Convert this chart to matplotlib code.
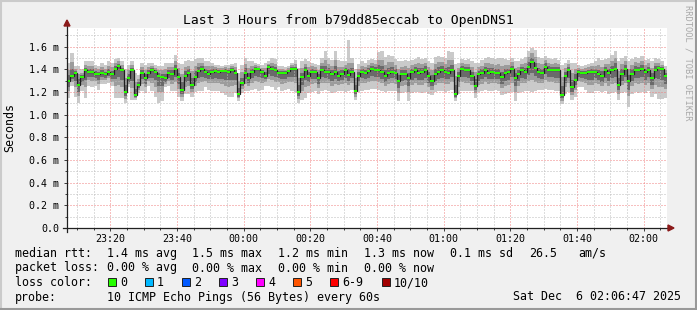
import datetime as dt

import numpy as np
import matplotlib
matplotlib.use("Agg")
import matplotlib.pyplot as plt
import matplotlib.dates as mdates
from matplotlib.patches import Polygon, Rectangle
from matplotlib.lines import Line2D
from matplotlib.ticker import FuncFormatter

plt.rcParams['font.family'] = ['DejaVu Sans Mono']

# one smokeping round per minute, 23:07 .. 02:06 (values in ms)
start = dt.datetime(2025, 12, 5, 23, 7)

median = [1.300, 1.345, 1.370, 1.260, 1.330, 1.390, 1.380, 1.380, 1.360, 1.355,
          1.370, 1.355, 1.380, 1.355, 1.405, 1.430, 1.390, 1.200, 1.320, 1.390,
          1.170, 1.260, 1.370, 1.320, 1.370, 1.390, 1.380, 1.340, 1.330, 1.320,
          1.370, 1.360, 1.400, 1.330, 1.220, 1.345, 1.365, 1.265, 1.335, 1.385,
          1.400, 1.375, 1.360, 1.375, 1.385, 1.375, 1.385, 1.385, 1.380, 1.390,
          1.370, 1.180, 1.280, 1.370, 1.320, 1.375, 1.400, 1.400, 1.375, 1.345,
          1.420, 1.400, 1.390, 1.370, 1.365, 1.365, 1.385, 1.400, 1.400, 1.200,
          1.330, 1.390, 1.340, 1.375, 1.375, 1.320, 1.395, 1.375, 1.375, 1.355,
          1.375, 1.340, 1.355, 1.390, 1.350, 1.380, 1.205, 1.340, 1.380, 1.365,
          1.385, 1.400, 1.390, 1.390, 1.375, 1.340, 1.365, 1.380, 1.370, 1.300,
          1.355, 1.360, 1.320, 1.375, 1.390, 1.365, 1.375, 1.395, 1.340, 1.300,
          1.355, 1.375, 1.390, 1.375, 1.365, 1.390, 1.180, 1.345, 1.400, 1.395,
          1.390, 1.340, 1.255, 1.355, 1.365, 1.390, 1.365, 1.375, 1.370, 1.365,
          1.330, 1.365, 1.375, 1.405, 1.320, 1.355, 1.390, 1.375, 1.425, 1.465,
          1.410, 1.375, 1.365, 1.425, 1.395, 1.390, 1.390, 1.390, 1.175, 1.340,
          1.395, 1.240, 1.310, 1.380, 1.370, 1.365, 1.375, 1.375, 1.380, 1.355,
          1.340, 1.390, 1.365, 1.390, 1.405, 1.260, 1.360, 1.405, 1.300, 1.360,
          1.395, 1.390, 1.405, 1.375, 1.395, 1.320, 1.395, 1.410, 1.400, 1.340]

# outer smoke (slowest / fastest ping)
hi1 = [1.46, 1.54, 1.43, 1.43, 1.40, 1.47, 1.47, 1.47, 1.44, 1.43,
       1.46, 1.44, 1.47, 1.46, 1.49, 1.50, 1.47, 1.40, 1.44, 1.47,
       1.37, 1.35, 1.46, 1.44, 1.46, 1.46, 1.44, 1.43, 1.43, 1.46,
       1.46, 1.46, 1.53, 1.46, 1.45, 1.47, 1.48, 1.47, 1.49, 1.50,
       1.50, 1.47, 1.47, 1.46, 1.44, 1.44, 1.43, 1.44, 1.44, 1.45,
       1.46, 1.37, 1.44, 1.50, 1.47, 1.47, 1.46, 1.45, 1.44, 1.46,
       1.47, 1.50, 1.49, 1.43, 1.43, 1.42, 1.43, 1.46, 1.48, 1.41,
       1.47, 1.49, 1.47, 1.46, 1.45, 1.44, 1.50, 1.56, 1.50, 1.48,
       1.56, 1.48, 1.47, 1.47, 1.66, 1.50, 1.40, 1.45, 1.47, 1.46,
       1.48, 1.49, 1.48, 1.55, 1.56, 1.51, 1.53, 1.52, 1.49, 1.47,
       1.47, 1.48, 1.47, 1.48, 1.49, 1.51, 1.49, 1.50, 1.47, 1.46,
       1.51, 1.52, 1.51, 1.50, 1.56, 1.55, 1.45, 1.46, 1.49, 1.48,
       1.49, 1.47, 1.46, 1.46, 1.48, 1.50, 1.51, 1.50, 1.49, 1.50,
       1.50, 1.49, 1.48, 1.50, 1.47, 1.47, 1.49, 1.51, 1.56, 1.59,
       1.57, 1.51, 1.50, 1.52, 1.50, 1.49, 1.50, 1.48, 1.44, 1.46,
       1.48, 1.46, 1.46, 1.44, 1.43, 1.44, 1.45, 1.46, 1.47, 1.50,
       1.48, 1.49, 1.50, 1.53, 1.56, 1.47, 1.50, 1.52, 1.47, 1.49,
       1.51, 1.50, 1.52, 1.48, 1.49, 1.47, 1.50, 1.49, 1.47, 1.43]
lo1 = [1.15, 1.25, 1.16, 1.10, 1.21, 1.15, 1.25, 1.24, 1.25, 1.22,
       1.27, 1.27, 1.28, 1.25, 1.15, 1.15, 1.15, 1.10, 1.24, 1.13,
       1.13, 1.19, 1.21, 1.19, 1.25, 1.21, 1.16, 1.10, 1.12, 1.24,
       1.25, 1.21, 1.21, 1.16, 1.12, 1.18, 1.18, 1.16, 1.20, 1.21,
       1.21, 1.24, 1.22, 1.21, 1.21, 1.21, 1.19, 1.17, 1.16, 1.16,
       1.19, 1.12, 1.19, 1.21, 1.21, 1.22, 1.23, 1.21, 1.22, 1.25,
       1.25, 1.24, 1.22, 1.24, 1.21, 1.22, 1.23, 1.21, 1.20, 1.10,
       1.13, 1.15, 1.19, 1.20, 1.21, 1.18, 1.21, 1.22, 1.21, 1.19,
       1.20, 1.21, 1.21, 1.20, 1.21, 1.22, 1.13, 1.20, 1.21, 1.22,
       1.22, 1.23, 1.23, 1.22, 1.21, 1.20, 1.21, 1.21, 1.21, 1.12,
       1.19, 1.20, 1.12, 1.19, 1.20, 1.20, 1.19, 1.20, 1.18, 1.17,
       1.20, 1.21, 1.21, 1.20, 1.21, 1.22, 1.12, 1.18, 1.21, 1.21,
       1.21, 1.21, 1.15, 1.20, 1.21, 1.22, 1.21, 1.21, 1.22, 1.21,
       1.17, 1.18, 1.19, 1.20, 1.12, 1.19, 1.20, 1.21, 1.21, 1.20,
       1.21, 1.22, 1.22, 1.23, 1.22, 1.22, 1.21, 1.21, 1.09, 1.18,
       1.20, 1.13, 1.16, 1.24, 1.24, 1.22, 1.19, 1.19, 1.21, 1.21,
       1.20, 1.21, 1.18, 1.19, 1.20, 1.13, 1.19, 1.20, 1.07, 1.18,
       1.20, 1.19, 1.20, 1.19, 1.21, 1.16, 1.18, 1.14, 1.14, 1.15]

# middle smoke
hi2 = [1.396, 1.462, 1.406, 1.362, 1.372, 1.438, 1.434, 1.434, 1.408, 1.400,
       1.424, 1.406, 1.434, 1.418, 1.456, 1.472, 1.438, 1.320, 1.392, 1.438,
       1.290, 1.314, 1.424, 1.392, 1.424, 1.432, 1.416, 1.394, 1.390, 1.404,
       1.424, 1.420, 1.478, 1.408, 1.358, 1.420, 1.434, 1.388, 1.428, 1.454,
       1.460, 1.432, 1.426, 1.426, 1.418, 1.414, 1.412, 1.418, 1.416, 1.426,
       1.424, 1.294, 1.376, 1.448, 1.410, 1.432, 1.436, 1.430, 1.414, 1.414,
       1.450, 1.460, 1.450, 1.406, 1.404, 1.398, 1.412, 1.436, 1.448, 1.326,
       1.414, 1.450, 1.418, 1.426, 1.420, 1.392, 1.458, 1.486, 1.450, 1.430,
       1.486, 1.424, 1.424, 1.438, 1.460, 1.452, 1.322, 1.406, 1.434, 1.422,
       1.442, 1.454, 1.444, 1.486, 1.486, 1.442, 1.464, 1.464, 1.442, 1.402,
       1.424, 1.432, 1.410, 1.438, 1.450, 1.452, 1.444, 1.458, 1.418, 1.396,
       1.448, 1.462, 1.462, 1.450, 1.482, 1.486, 1.342, 1.414, 1.454, 1.446,
       1.450, 1.418, 1.378, 1.418, 1.434, 1.456, 1.452, 1.450, 1.442, 1.446,
       1.432, 1.440, 1.438, 1.462, 1.410, 1.424, 1.450, 1.456, 1.506, 1.540,
       1.506, 1.456, 1.446, 1.482, 1.458, 1.450, 1.456, 1.444, 1.334, 1.412,
       1.446, 1.372, 1.400, 1.416, 1.406, 1.410, 1.420, 1.426, 1.434, 1.442,
       1.424, 1.450, 1.446, 1.474, 1.498, 1.386, 1.444, 1.474, 1.402, 1.438,
       1.464, 1.456, 1.474, 1.438, 1.452, 1.410, 1.458, 1.458, 1.442, 1.394]
lo2 = [1.210, 1.288, 1.244, 1.164, 1.258, 1.246, 1.302, 1.296, 1.294, 1.274,
       1.310, 1.304, 1.320, 1.292, 1.252, 1.262, 1.246, 1.140, 1.272, 1.234,
       1.146, 1.218, 1.274, 1.242, 1.298, 1.282, 1.248, 1.196, 1.204, 1.272,
       1.298, 1.270, 1.286, 1.228, 1.160, 1.246, 1.254, 1.202, 1.254, 1.280,
       1.286, 1.294, 1.276, 1.276, 1.280, 1.276, 1.268, 1.256, 1.248, 1.252,
       1.262, 1.144, 1.226, 1.274, 1.254, 1.282, 1.298, 1.286, 1.282, 1.288,
       1.318, 1.304, 1.288, 1.292, 1.272, 1.278, 1.292, 1.286, 1.280, 1.140,
       1.210, 1.246, 1.250, 1.270, 1.276, 1.236, 1.284, 1.282, 1.276, 1.256,
       1.270, 1.262, 1.268, 1.276, 1.266, 1.284, 1.160, 1.256, 1.278, 1.278,
       1.286, 1.298, 1.294, 1.288, 1.276, 1.256, 1.272, 1.278, 1.274, 1.192,
       1.256, 1.264, 1.200, 1.264, 1.276, 1.266, 1.264, 1.278, 1.244, 1.222,
       1.262, 1.276, 1.282, 1.270, 1.272, 1.288, 1.144, 1.246, 1.286, 1.284,
       1.282, 1.262, 1.192, 1.262, 1.272, 1.288, 1.272, 1.276, 1.280, 1.272,
       1.234, 1.254, 1.264, 1.282, 1.200, 1.256, 1.276, 1.276, 1.296, 1.306,
       1.290, 1.282, 1.278, 1.308, 1.290, 1.288, 1.282, 1.282, 1.124, 1.244,
       1.278, 1.174, 1.220, 1.296, 1.292, 1.278, 1.264, 1.264, 1.278, 1.268,
       1.256, 1.282, 1.254, 1.270, 1.282, 1.182, 1.258, 1.282, 1.162, 1.252,
       1.278, 1.270, 1.282, 1.264, 1.284, 1.224, 1.266, 1.248, 1.244, 1.226]

# inner (dark) smoke
hi3 = [1.348, 1.404, 1.388, 1.311, 1.351, 1.414, 1.407, 1.407, 1.384, 1.378,
       1.397, 1.380, 1.407, 1.386, 1.430, 1.451, 1.414, 1.260, 1.356, 1.414,
       1.230, 1.287, 1.397, 1.356, 1.397, 1.411, 1.398, 1.367, 1.360, 1.362,
       1.397, 1.390, 1.439, 1.369, 1.289, 1.382, 1.400, 1.326, 1.382, 1.420,
       1.430, 1.404, 1.393, 1.400, 1.402, 1.395, 1.398, 1.402, 1.398, 1.408,
       1.397, 1.237, 1.328, 1.409, 1.365, 1.404, 1.418, 1.415, 1.395, 1.380,
       1.435, 1.430, 1.420, 1.388, 1.385, 1.382, 1.398, 1.418, 1.424, 1.263,
       1.372, 1.420, 1.379, 1.400, 1.398, 1.356, 1.426, 1.430, 1.412, 1.392,
       1.430, 1.382, 1.390, 1.414, 1.400, 1.416, 1.264, 1.373, 1.407, 1.394,
       1.414, 1.427, 1.417, 1.438, 1.430, 1.391, 1.414, 1.422, 1.406, 1.351,
       1.390, 1.396, 1.365, 1.406, 1.420, 1.408, 1.410, 1.426, 1.379, 1.348,
       1.402, 1.418, 1.426, 1.412, 1.424, 1.438, 1.261, 1.380, 1.427, 1.420,
       1.420, 1.379, 1.316, 1.386, 1.400, 1.423, 1.408, 1.412, 1.406, 1.405,
       1.381, 1.402, 1.406, 1.434, 1.365, 1.390, 1.420, 1.416, 1.466, 1.502,
       1.458, 1.416, 1.406, 1.454, 1.426, 1.420, 1.423, 1.417, 1.254, 1.376,
       1.420, 1.306, 1.355, 1.398, 1.388, 1.388, 1.398, 1.400, 1.407, 1.398,
       1.382, 1.420, 1.405, 1.432, 1.452, 1.323, 1.402, 1.440, 1.351, 1.399,
       1.430, 1.423, 1.440, 1.406, 1.424, 1.365, 1.426, 1.434, 1.421, 1.367]
lo3 = [1.247, 1.312, 1.296, 1.204, 1.288, 1.306, 1.334, 1.331, 1.321, 1.308,
       1.335, 1.325, 1.345, 1.318, 1.316, 1.332, 1.306, 1.165, 1.292, 1.299,
       1.156, 1.236, 1.314, 1.275, 1.328, 1.327, 1.303, 1.256, 1.257, 1.292,
       1.328, 1.308, 1.334, 1.271, 1.185, 1.287, 1.300, 1.228, 1.288, 1.324,
       1.334, 1.328, 1.311, 1.317, 1.324, 1.317, 1.317, 1.310, 1.303, 1.310,
       1.307, 1.159, 1.249, 1.314, 1.282, 1.321, 1.341, 1.334, 1.321, 1.312,
       1.361, 1.344, 1.330, 1.325, 1.311, 1.314, 1.331, 1.334, 1.330, 1.165,
       1.260, 1.306, 1.288, 1.314, 1.317, 1.271, 1.330, 1.321, 1.317, 1.297,
       1.314, 1.294, 1.304, 1.323, 1.301, 1.324, 1.179, 1.291, 1.320, 1.314,
       1.327, 1.341, 1.334, 1.330, 1.317, 1.291, 1.311, 1.320, 1.314, 1.237,
       1.297, 1.304, 1.250, 1.310, 1.324, 1.307, 1.310, 1.327, 1.284, 1.255,
       1.301, 1.317, 1.327, 1.314, 1.311, 1.330, 1.159, 1.287, 1.334, 1.330,
       1.327, 1.294, 1.218, 1.301, 1.311, 1.330, 1.311, 1.317, 1.317, 1.311,
       1.274, 1.300, 1.310, 1.333, 1.250, 1.297, 1.324, 1.317, 1.350, 1.372,
       1.340, 1.321, 1.314, 1.357, 1.334, 1.330, 1.327, 1.327, 1.145, 1.284,
       1.327, 1.202, 1.258, 1.331, 1.325, 1.314, 1.310, 1.310, 1.320, 1.304,
       1.291, 1.327, 1.300, 1.320, 1.333, 1.214, 1.300, 1.333, 1.219, 1.297,
       1.327, 1.320, 1.333, 1.310, 1.330, 1.264, 1.320, 1.316, 1.309, 1.274]

y_ticks = [0.0, 0.2, 0.4, 0.6, 0.8, 1.0, 1.2, 1.4, 1.6]

loss_labels = ['0', '1', '2', '3', '4', '5', '6-9', '10/10']
loss_colors = ['#26ff00', '#00b8ff', '#0059ff', '#7e00ff', '#ff00ff',
               '#ff5500', '#ff0000', '#a10000']

rtt_items = ['1.4 ms avg', '1.5 ms max', '1.2 ms min', '1.3 ms now', '0.1 ms sd', '26.5', 'am/s']
loss_items = ['0.00 % avg', '0.00 % max', '0.00 % min', '0.00 % now']

W, H = 697, 310
X0, Y0, PW, PH = 67, 228, 600, 200   # plot canvas in pixels
YMAX = 1.765


def px(x, y):
    return x / W, 1 - y / H


fig = plt.figure(figsize=(W / 100, H / 100), dpi=100, facecolor='#f0f0f0')

# frame shading like rrdtool
for (x1, y1, x2, y2, c) in [(0, 0.5, W, 0.5, '#cbcbcb'), (0.5, 0, 0.5, H, '#cbcbcb'),
                            (0, H - 1, W, H - 1, '#999999'), (W - 1, 0, W - 1, H, '#999999')]:
    fig.add_artist(Line2D([x1 / W, x2 / W], [1 - y1 / H, 1 - y2 / H], color=c, lw=1.5,
                          transform=fig.transFigure))

ax = fig.add_axes([X0 / W, (H - Y0) / H, PW / W, PH / H])
ax.set_facecolor('white')
for s in ax.spines.values():
    s.set_visible(False)

n = len(median)
edges = mdates.date2num([start + dt.timedelta(minutes=k) for k in range(n + 1)])

ax.stairs(hi1, edges, baseline=lo1, fill=True, color='#cacaca', lw=0, zorder=1)
ax.stairs(hi2, edges, baseline=lo2, fill=True, color='#9c9c9c', lw=0, zorder=1.1)
ax.stairs(hi3, edges, baseline=lo3, fill=True, color='#6a6a6a', lw=0, zorder=1.2)

one_px = YMAX / PH
med = np.array(median)
ax.stairs(med, edges, baseline=None, color='#202020', lw=0.9, zorder=3)
ax.stairs(med + one_px, edges, baseline=med - one_px, fill=True, color=loss_colors[0], lw=0, zorder=3.1)

ax.set_xlim(edges[0], edges[-1])
ax.set_ylim(0, YMAX)

ax.xaxis.set_major_locator(mdates.MinuteLocator(byminute=[0, 20, 40]))
ax.xaxis.set_minor_locator(mdates.MinuteLocator(byminute=range(0, 60, 5)))
ax.xaxis.set_major_formatter(mdates.DateFormatter('%H:%M'))
ax.set_yticks(y_ticks)
ax.set_yticks(np.arange(0.1, YMAX, 0.2), minor=True)
ax.yaxis.set_major_formatter(FuncFormatter(lambda v, p: '0.0' if v == 0 else f'{v:.1f} m'))

ax.set_axisbelow(False)
ax.grid(which='minor', color='#bdbdbd', lw=0.72, linestyle=(0, (1, 2)))
ax.grid(which='major', color='#f08080', lw=0.72, linestyle=(0, (1, 2)))
ax.tick_params(which='both', direction='out', color='#404040', width=0.72, labelsize=7.2)
ax.tick_params(which='major', length=2.2)
ax.tick_params(which='minor', length=1.5)
ax.tick_params(axis='y', pad=3.4)
ax.tick_params(axis='x', pad=2.2)

# axes with arrows
ax.plot([-4 / PW, 1 + 1 / PW], [0, 0], color='#202020', lw=0.9, transform=ax.transAxes, clip_on=False, zorder=4)
ax.plot([0, 0], [-4 / PH, 1 + 2 / PH], color='#202020', lw=0.9, transform=ax.transAxes, clip_on=False, zorder=4)
ax.add_patch(Polygon([(1 + 1 / PW, -3 / PH), (1 + 1 / PW, 3 / PH), (1 + 7 / PW, 0)], closed=True,
                     color='#8b1a1a', transform=ax.transAxes, clip_on=False, zorder=4))
ax.add_patch(Polygon([(-3 / PW, 1 + 2 / PH), (3 / PW, 1 + 2 / PH), (0, 1 + 8 / PH)], closed=True,
                     color='#8b1a1a', transform=ax.transAxes, clip_on=False, zorder=4))

fig.text(*px(348.5, 24), 'Last 3 Hours from b79dd85eccab to OpenDNS1', ha='center', va='baseline', fontsize=9.4)
fig.text(*px(10, 128), 'Seconds', rotation=90, ha='center', va='center', fontsize=8.4)
fig.text(*px(688, 5), 'RRDTOOL / TOBI OETIKER', rotation=270, ha='center', va='top', fontsize=6.3,
         color='#a8a8a8')

# legend
row_y = [257, 271.5, 286, 300.5]
fs = 8.4
fig.text(*px(15, row_y[0]), 'median rtt:', fontsize=fs, va='baseline')
for x, s in zip([107, 192, 278, 364, 450.5, 529, 578], rtt_items):
    fig.text(*px(x, row_y[0]), s, fontsize=fs, va='baseline')

fig.text(*px(15, row_y[1]), 'packet loss:', fontsize=fs, va='baseline')
for x, s in zip([107, 192, 278, 364], loss_items):
    fig.text(*px(x, row_y[1]), s, fontsize=fs, va='baseline')

fig.text(*px(15, row_y[2]), 'loss color:', fontsize=fs, va='baseline')
box_x = [108, 145, 182, 219, 256, 293, 330, 382]
for x, c, s in zip(box_x, loss_colors, loss_labels):
    fig.add_artist(Rectangle(px(x, row_y[2]), 8 / W, 8 / H, transform=fig.transFigure,
                             facecolor=c, edgecolor='#202020', lw=0.7))
    fig.text(*px(x + 12, row_y[2]), s, fontsize=fs, va='baseline')

fig.text(*px(15, row_y[3]), 'probe:', fontsize=fs, va='baseline')
fig.text(*px(107, row_y[3]), '10 ICMP Echo Pings (56 Bytes) every 60s', fontsize=fs, va='baseline')
fig.text(*px(681, row_y[3]), 'Sat Dec  6 02:06:47 2025', fontsize=fs, va='baseline', ha='right')

fig.savefig('out.png', dpi=100, facecolor=fig.get_facecolor())
